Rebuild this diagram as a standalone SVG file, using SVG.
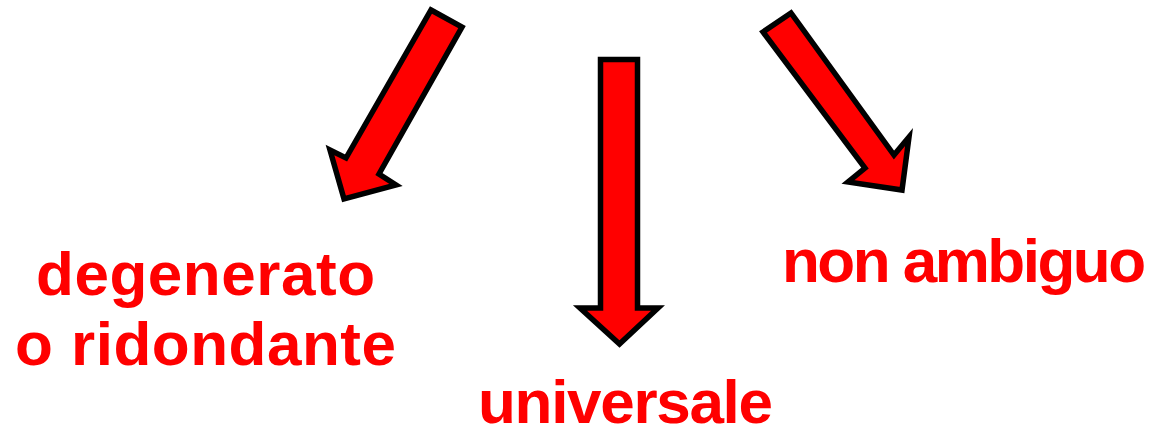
<svg xmlns="http://www.w3.org/2000/svg" width="1153" height="435" viewBox="0 0 1153 435">
<style>
.arr{fill:#ff0000;stroke:#000;stroke-width:5.5;stroke-linejoin:miter;stroke-miterlimit:10}
.lbl{fill:#ff0000;font-family:"Liberation Sans",Arial,sans-serif;font-weight:bold;font-size:62px}
</style>
<rect width="1153" height="435" fill="#fff"/>
<g id="connectors">
<path class="arr" d="M431,10 L462,27 L379,174 L396,185 L344,199 L330,150 L346,158 Z"/>
<path class="arr" d="M600.5,59.5 L637.5,59.5 L637.5,308 L658,308 L619.5,344 L580,308 L600.5,308 Z"/>
<path class="arr" d="M763,32 L791,13 L894,155 L909,137 L902,190 L848,182 L865,168 Z"/>
</g>
<g id="n1"><text class="lbl" x="36" y="295" textLength="339" lengthAdjust="spacing">degenerato</text>
<text class="lbl" x="15" y="365" textLength="381" lengthAdjust="spacing">o ridondante</text></g>
<g id="n2"><text class="lbl" x="478" y="423" textLength="295" lengthAdjust="spacing">universale</text></g>
<g id="n3"><text class="lbl" x="782" y="282" textLength="364" lengthAdjust="spacing">non ambiguo</text></g>
</svg>
